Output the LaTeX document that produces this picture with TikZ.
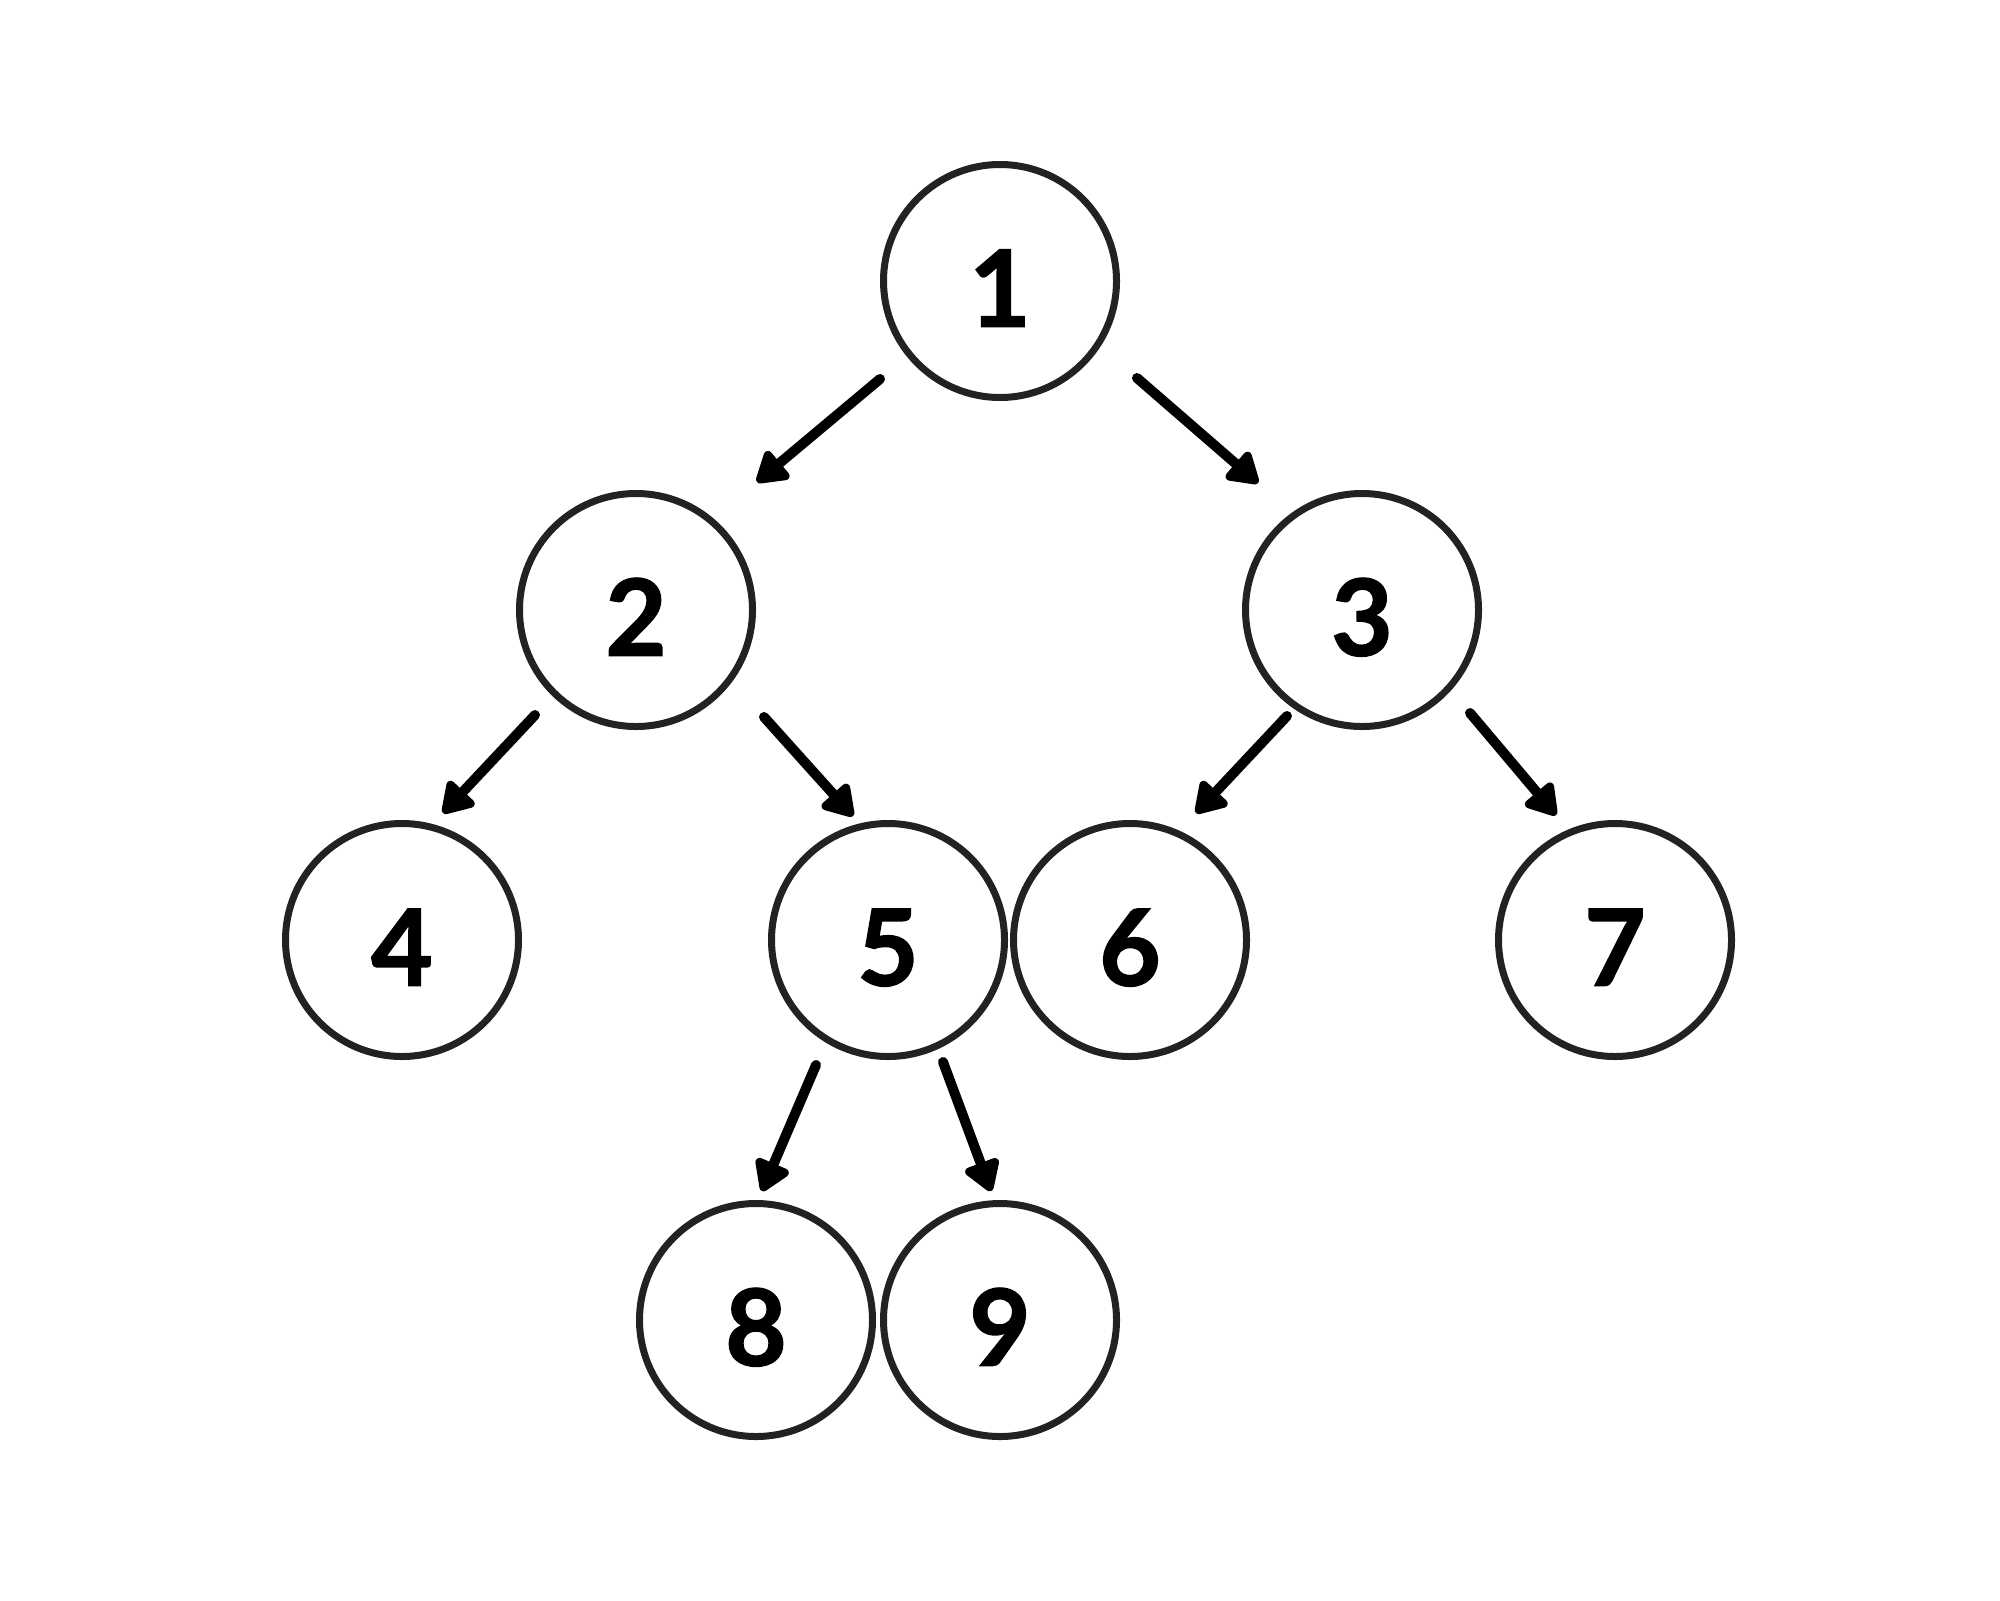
\documentclass[tikz,border=0pt]{standalone}
\usepackage{fontspec}
\setmainfont{Lato}[BoldFeatures={FakeBold=1.5}]
\usetikzlibrary{arrows.meta}
\definecolor{ring}{HTML}{222222}
\begin{document}
\begin{tikzpicture}[x=0.5pt,y=-0.5pt,
  tnode/.style={circle, draw=ring, line width=3.5pt, minimum size=116.5pt, inner sep=0pt,
    text height=45.5pt, text depth=0pt,
    font=\fontsize{53}{53}\selectfont\bfseries, text=black},
  edge/.style={line width=5pt, line cap=round, -{Triangle[round,length=17pt,width=20pt]}}]
\useasboundingbox (0,0) rectangle (2000,1600);
\node[tnode] (n1) at (1000,281) {1};
\node[tnode] (n2) at (636,610) {2};
\node[tnode] (n3) at (1362,610) {3};
\node[tnode] (n4) at (402,940) {4};
\node[tnode] (n5) at (888,940) {5};
\node[tnode] (n6) at (1130,940) {6};
\node[tnode] (n7) at (1615,940) {7};
\node[tnode] (n8) at (756,1320) {8};
\node[tnode] (n9) at (1000,1320) {9};
% connector ends
\coordinate (a12s) at (880,379);  \coordinate (a12e) at (757,482);
\coordinate (a13s) at (1137,378); \coordinate (a13e) at (1258,483);
\coordinate (a24s) at (535,715);  \coordinate (a24e) at (443,813);
\coordinate (a25s) at (764,717);  \coordinate (a25e) at (853,816);
\coordinate (a36s) at (1287,716); \coordinate (a36e) at (1196,813);
\coordinate (a37s) at (1470,713); \coordinate (a37e) at (1556,815);
\coordinate (a58s) at (816,1065); \coordinate (a58e) at (762,1191);
\coordinate (a59s) at (943,1062); \coordinate (a59e) at (991,1191);
\draw[edge] (a12s) -- (a12e);
\draw[edge] (a13s) -- (a13e);
\draw[edge] (a24s) -- (a24e);
\draw[edge] (a25s) -- (a25e);
\draw[edge] (a36s) -- (a36e);
\draw[edge] (a37s) -- (a37e);
\draw[edge] (a58s) -- (a58e);
\draw[edge] (a59s) -- (a59e);
\end{tikzpicture}
\end{document}
